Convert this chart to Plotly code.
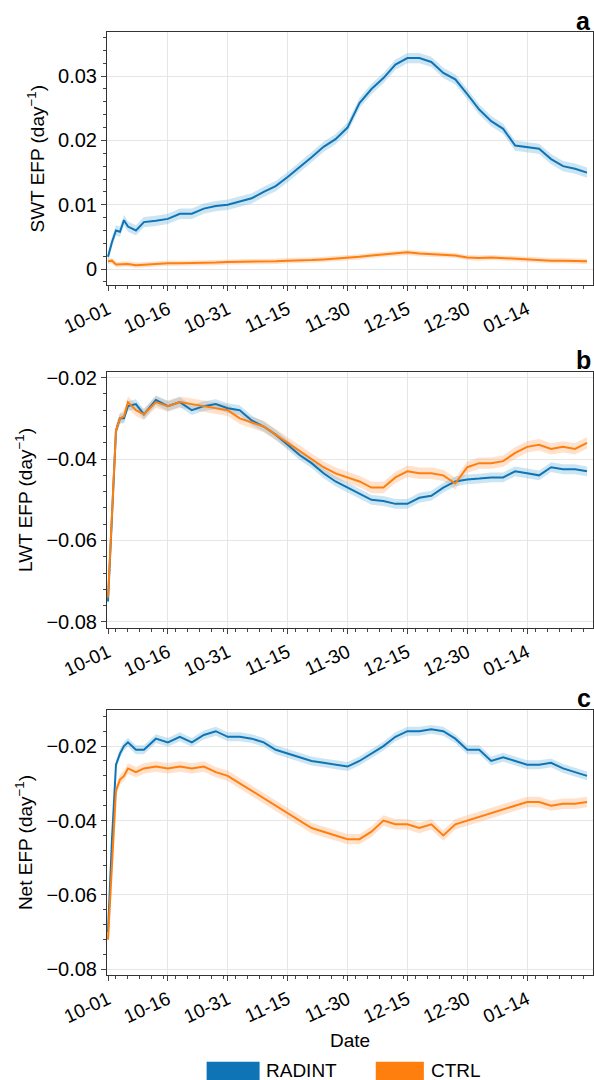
import pandas as pd
import plotly.graph_objects as go
from plotly.subplots import make_subplots

days = [0, 1, 2, 3, 4, 5, 7, 9, 12, 15, 18, 21, 24, 27, 30, 33, 36, 39, 42, 45, 48, 51,
        54, 57, 60, 63, 66, 69, 72, 75, 78, 81, 84, 87, 90, 93, 96, 99, 102, 105, 108,
        111, 114, 117, 120]
dates = pd.Timestamp("2019-10-01") + pd.to_timedelta(days, unit="D")

# panel a: SWT EFP
swt_radint = [0.0019, 0.0042, 0.0060, 0.0058, 0.0076, 0.0066, 0.0060, 0.0073, 0.0075, 0.0078,
              0.0086, 0.0086, 0.0094, 0.0098, 0.0100, 0.0105, 0.0110, 0.0120, 0.0129, 0.0143,
              0.0158, 0.0174, 0.0190, 0.0202, 0.0220, 0.0258, 0.0280, 0.0297, 0.0318, 0.0328,
              0.0328, 0.0322, 0.0305, 0.0295, 0.0272, 0.0248, 0.0230, 0.0218, 0.0192, 0.0189,
              0.0187, 0.0171, 0.0160, 0.0156, 0.0150]
swt_ctrl = [0.0012, 0.0013, 0.0007, 0.0007, 0.0008, 0.0008, 0.0006, 0.0007, 0.0008, 0.0009,
            0.0009, 0.0009, 0.0010, 0.0010, 0.0011, 0.0011, 0.0011, 0.0012, 0.0012, 0.0013,
            0.0013, 0.0014, 0.0015, 0.0016, 0.0018, 0.0019, 0.0021, 0.0023, 0.0025, 0.0026,
            0.0024, 0.0023, 0.0022, 0.0021, 0.0018, 0.0017, 0.0018, 0.0017, 0.0015, 0.0014,
            0.0014, 0.0013, 0.0013, 0.0012, 0.0012]

# panel b: LWT EFP
lwt_radint = [-0.075, -0.055, -0.033, -0.030, -0.030, -0.027, -0.0265, -0.029, -0.0255, -0.027,
              -0.026, -0.028, -0.027, -0.0265, -0.0275, -0.028, -0.0305, -0.032, -0.034, -0.0365,
              -0.039, -0.041, -0.0435, -0.0455, -0.047, -0.0485, -0.050, -0.0503, -0.051, -0.051,
              -0.0495, -0.049, -0.047, -0.0455, -0.045, -0.0448, -0.0445, -0.0445, -0.043, -0.0435,
              -0.044, -0.042, -0.0425, -0.0425, -0.043]
lwt_ctrl = [-0.074, -0.054, -0.033, -0.030, -0.0295, -0.026, -0.028, -0.029, -0.026, -0.027,
            -0.026, -0.0265, -0.027, -0.0275, -0.028, -0.030, -0.031, -0.032, -0.034, -0.036,
            -0.038, -0.040, -0.042, -0.0435, -0.0445, -0.0455, -0.047, -0.047, -0.0445, -0.043,
            -0.0435, -0.0435, -0.044, -0.046, -0.042, -0.041, -0.041, -0.0405, -0.0385, -0.037,
            -0.0365, -0.0375, -0.037, -0.0375, -0.036]

# panel c: Net EFP
net_radint = [-0.070, -0.045, -0.025, -0.022, -0.020, -0.019, -0.021, -0.021, -0.018, -0.019,
              -0.0175, -0.019, -0.017, -0.016, -0.0175, -0.0175, -0.018, -0.019, -0.021, -0.022,
              -0.023, -0.024, -0.0245, -0.025, -0.0255, -0.024, -0.022, -0.020, -0.0175, -0.016,
              -0.016, -0.0155, -0.016, -0.018, -0.021, -0.021, -0.024, -0.023, -0.024, -0.025,
              -0.025, -0.0245, -0.026, -0.027, -0.028]
net_ctrl = [-0.072, -0.050, -0.032, -0.029, -0.028, -0.026, -0.027, -0.026, -0.0255, -0.026,
            -0.0255, -0.026, -0.0255, -0.027, -0.028, -0.030, -0.032, -0.034, -0.036, -0.038,
            -0.040, -0.042, -0.043, -0.044, -0.045, -0.045, -0.043, -0.040, -0.041, -0.041,
            -0.042, -0.041, -0.044, -0.041, -0.040, -0.039, -0.038, -0.037, -0.036, -0.035,
            -0.035, -0.036, -0.0355, -0.0355, -0.035]

spread = {"a": (0.0008, 0.0004), "b": (0.0012, 0.0014), "c": (0.0012, 0.0014)}

BLUE = "#0f74b5"
ORANGE = "#ff7f0e"
BLUE_BAND = "rgba(110,180,220,0.35)"
ORANGE_BAND = "rgba(255,170,110,0.35)"

panels = [
    ("a", swt_radint, swt_ctrl, "SWT EFP (day<sup>−1</sup>)", [-0.0025, 0.0368], [0, 0.01, 0.02, 0.03], ["0", "0.01", "0.02", "0.03"]),
    ("b", lwt_radint, lwt_ctrl, "LWT EFP (day<sup>−1</sup>)", [-0.0815, -0.0186], [-0.08, -0.06, -0.04, -0.02], ["−0.08", "−0.06", "−0.04", "−0.02"]),
    ("c", net_radint, net_ctrl, "Net EFP (day<sup>−1</sup>)", [-0.0815, -0.0103], [-0.08, -0.06, -0.04, -0.02], ["−0.08", "−0.06", "−0.04", "−0.02"]),
]
domains = [[0.736, 0.970], [0.4185, 0.6556], [0.0972, 0.3426]]

fig = make_subplots(rows=3, cols=1)
tickdates = pd.date_range("2019-10-01", periods=8, freq="15D")

for i, (lab, rad, ctl, title, yr, tv, tt) in enumerate(panels):
    r = i + 1
    for vals, sd, band in ((ctl, spread[lab][1], ORANGE_BAND), (rad, spread[lab][0], BLUE_BAND)):
        up = [v + sd for v in vals]
        lo = [v - sd for v in vals]
        fig.add_trace(go.Scatter(x=dates, y=up, mode="lines", line=dict(width=0), showlegend=False, hoverinfo="skip"), row=r, col=1)
        fig.add_trace(go.Scatter(x=dates, y=lo, mode="lines", line=dict(width=0), fill="tonexty", fillcolor=band, showlegend=False, hoverinfo="skip"), row=r, col=1)
    fig.add_trace(go.Scatter(x=dates, y=rad, mode="lines", line=dict(color=BLUE, width=2), showlegend=False), row=r, col=1)
    fig.add_trace(go.Scatter(x=dates, y=ctl, mode="lines", line=dict(color=ORANGE, width=2), showlegend=False), row=r, col=1)
    fig.update_yaxes(row=r, col=1, domain=domains[i], range=yr, tickvals=tv, ticktext=tt, automargin=False,
                     title=dict(text=title, standoff=8, font=dict(size=19)),
                     showgrid=True, gridcolor="#e6e6e6", ticks="outside", ticklen=5,
                     minor=dict(ticks="outside", ticklen=3, dtick=(0.002 if lab == "a" else 0.004), showgrid=False),
                     showline=True, linecolor="#333", mirror=True, zeroline=False, tickfont=dict(size=20))
    fig.update_xaxes(row=r, col=1, range=[pd.Timestamp("2019-09-30 18:00"), pd.Timestamp("2020-01-30 12:00")],
                     tickvals=tickdates, ticktext=[d.strftime("%m-%d") for d in tickdates], tickangle=-25,
                     automargin=False, showgrid=True, gridcolor="#e6e6e6", ticks="outside", ticklen=5,
                     minor=dict(ticks="outside", ticklen=3, dtick=3 * 86400000, showgrid=False),
                     showline=True, linecolor="#333", mirror=True, tickfont=dict(size=19))
    fig.add_annotation(text="<b>%s</b>" % lab, xref="paper", yref="paper", x=1.0, y=domains[i][1] - 0.004,
                       xanchor="right", yanchor="bottom", showarrow=False, font=dict(size=25, color="black"))

fig.add_annotation(text="Date", xref="paper", yref="paper", x=0.5, y=0.037, xanchor="center",
                   yanchor="middle", showarrow=False, font=dict(size=19, color="black"))

# legend drawn by hand to get wide colour blocks
for x0, x1, tx, col, name in ((0.205, 0.314, 0.323, BLUE, "RADINT"), (0.553, 0.652, 0.662, ORANGE, "CTRL")):
    fig.add_shape(type="rect", xref="paper", yref="paper", x0=x0, x1=x1, y0=0.0, y1=0.017,
                  fillcolor=col, line=dict(width=0))
    fig.add_annotation(text=name, xref="paper", yref="paper", x=tx, y=0.0085, xanchor="left",
                       yanchor="middle", showarrow=False, font=dict(size=19, color="black"))

fig.update_layout(width=594, height=1080, margin=dict(l=107, r=1, t=0, b=0),
                  plot_bgcolor="white", paper_bgcolor="white",
                  font=dict(family="Liberation Sans, Arial, sans-serif", color="black", size=19))
fig.write_html("out.html", config={"displayModeBar": False}, post_script="document.body.style.margin='0';")
